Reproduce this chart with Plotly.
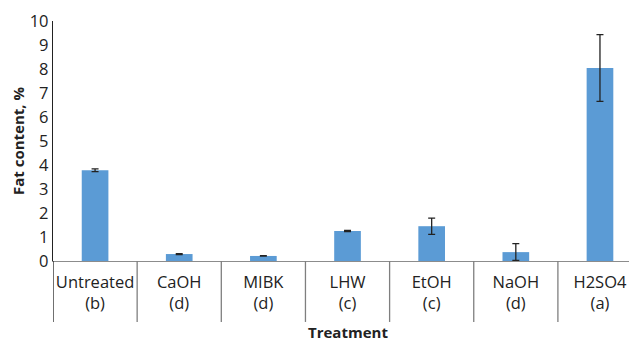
import plotly.graph_objects as go

treatments = ["Untreated", "CaOH", "MIBK", "LHW", "EtOH", "NaOH", "H2SO4"]
groups = ["(b)", "(d)", "(d)", "(c)", "(c)", "(d)", "(a)"]
fat_content = [3.78, 0.29, 0.21, 1.25, 1.45, 0.37, 8.04]
fat_error = [0.06, 0.02, 0.01, 0.02, 0.34, 0.35, 1.39]
y_ticks = list(range(0, 11))

labels = [f"{t}<br>{g}" for t, g in zip(treatments, groups)]
xs = list(range(len(treatments)))

fig = go.Figure()
fig.add_trace(go.Bar(
    x=xs, y=fat_content,
    marker=dict(color="#5B9BD5", line=dict(width=0)),
    width=0.317,
    error_y=dict(type="data", array=fat_error, visible=True,
                 color="#222222", thickness=1.3, width=3.5),
))

font_family = "Open Sans, Noto Sans, DejaVu Sans, sans-serif"

shapes = []
# category separator lines extending below axis
for i in range(1, len(treatments)):
    shapes.append(dict(type="line", xref="x", yref="paper",
                       x0=i - 0.5, x1=i - 0.5, y0=0, y1=-0.254,
                       line=dict(color="#7f7f7f", width=1.3)))
# left axis extension below
shapes.append(dict(type="line", xref="x", yref="paper",
                   x0=-0.5, x1=-0.5, y0=0, y1=-0.254,
                   line=dict(color="#222222", width=1.3)))

fig.update_layout(
    width=629, height=334,
    margin=dict(l=45, r=0, t=13, b=81),
    paper_bgcolor="white", plot_bgcolor="white",
    showlegend=False,
    font=dict(family=font_family, size=16.5, color="#222222"),
    shapes=shapes,
    xaxis=dict(
        tickmode="array", tickvals=xs, ticktext=labels,
        range=[-0.5, 6.44], automargin=False,
        showline=True, linecolor="#8c8c8c", linewidth=1.3,
        ticks="outside", ticklen=6, tickcolor="rgba(0,0,0,0)",
        showgrid=False, zeroline=False,
        tickfont=dict(size=16.5),
    ),
    yaxis=dict(
        range=[0, 10], tickvals=y_ticks, automargin=False,
        showline=True, linecolor="#222222", linewidth=1.3,
        ticks="", showgrid=False, zeroline=False,
        tickfont=dict(size=16.5),
        title=dict(text="<b>Fat content, %</b>", font=dict(size=15), standoff=8),
    ),
    annotations=[dict(text="<b>Treatment</b>", xref="x", yref="paper",
                      x=3, y=-0.296, yanchor="middle", showarrow=False,
                      font=dict(size=15))],
)

fig.write_html("out.html")
